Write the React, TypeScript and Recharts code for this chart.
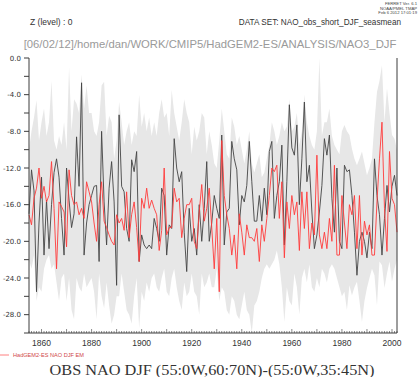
import React from 'react';
import { ComposedChart, Area, Line, XAxis, YAxis } from 'recharts';

const FIRST_YEAR = 1855;

// observed DJF NAO index
const obs = [
  -17.0, -12.2, -14.5, -25.5, -18, -13.0, -21.5, -15.5, -20.8, -16, -12.5, -11.0, -13, -17.5, -21.5, -12.0, -15.5, -18.5, -17, -8.6, -14, -2.7, -21.5, -18, -16,
  -15, -14, -13.9, -22.2, -8, -15.7, -20.4, -14.2, -11.3, -15.7, -24.8, -6.2, -14, -14.6, -18.6, -20, -11.1, -12.4, -10.2, -22.2, -19.3, -20.4, -20.8, -20.4, -20.8,
  -17.5, -18.6, -20, -14.2, -15, -21.5, -18.2, -18.6, -8.8, -12, -13.5, -12.4, -19, -23.3, -16.4, -20, -18.6, -21.5, -16, -20, -16.4, -11.3, -20, -18, -15,
  -16.4, -17.5, -8.4, -20.4, -16.8, -16.4, -9.1, -11, -12.2, -18.2, -15, -15.7, -13.9, -9.1, -13.5, -17.8, -17.8, -15, -17.8, -14.2, -17.1, -10.2, -9.1, -17.5,
  -15, -13.5, -9.5, -20.4, -13.5, -5.1, -9.8, -10.6, -7.3, -16, -11, -4.8, -13.5, -11.7, -16.8, -20.8, -19.3, -16.8, -13.9, -8.8, -10.6, -8.4, -15.3, -19, -12,
  -20, -20.8, -11.7, -12.4, -12.2, -15, -19, -23.7, -20, -19, -20, -21.8, -19, -20.8, -11, -15, -17.1, -21.5, -17.5, -13.9, -16.8, -14, -12.8, -15,
];

// HadGEM2-ES ensemble mean
const ensMean = [
  -17.1, -18.2, -15.3, -14.2, -12, -15.3, -14, -15.7, -15, -11.3, -16.4, -23, -15.7, -16.2, -16.8, -20.6, -12.2, -15, -16, -15.7, -17.1, -16.4, -17.5, -13.5, -14.6,
  -15.7, -18, -20, -16, -13.5, -17.8, -18.5, -19.3, -20, -20.4, -17.1, -18, -17.5, -18.8, -14.6, -19.6, -17.1, -15.7, -18.5, -22.2, -15.3, -16.4, -14.2, -16.4, -15.5,
  -16.4, -17.1, -21, -18.8, -12, -19.3, -18.5, -18.5, -14.2, -15.7, -15.3, -19.6, -17.5, -16, -16, -15.3, -20, -20.8, -16.8, -13.8, -17.8, -16.4, -14.2, -18.5, -23,
  -17.5, -25.5, -9, -15, -17.1, -18.6, -21.5, -19.3, -23, -17, -19, -21.5, -18.2, -19.6, -19.6, -20, -18.6, -22.2, -18.2, -20, -17.5, -15, -12, -12.4,
  -11.7, -17.5, -13.5, -21.8, -15.7, -18.6, -15, -17.1, -15.7, -21, -14.6, -18.6, -14.6, -20.8, -18, -19.3, -10.6, -19.3, -20.8, -19, -20.8, -17.5, -20, -11.7, -21.5,
  -21.5, -15, -18, -20.8, -16, -17.1, -15, -20.8, -15, -21.5, -17.8, -19.3, -18.2, -21.5, -21.5, -15.7, -11, -7, -16.4, -21.1, -10.2, -15.3, -16, -19,
];

// ensemble spread (max / min of members)
const ensMax = [
  -10, -8, -6.5, -4.6, -9, -7, -5.5, -8.5, -7, -2.5, -9, -10, -8.5, -9.5, -7, -10, -1, -8, -4.5, -5, -6, -1.8, -5.5, -3, -6,
  -6, -8, -8.5, -7, -3, -2.6, -8.5, -6.3, -7, -11, -9, -4.8, -7, -9.5, -8, -7, -9.5, -8, -8.5, -4, -7.5, -6, -8, -6.5, -8.5,
  -7, -8.5, -6, -4.5, -6.5, -6, -8.5, -3.5, -6, -7.5, -9, -7, -4.5, -6, -7, -10.5, -7.5, -9, -8, -6, -6.5, -10.5, -8, -9.5, -11.5,
  -12, -9, -5.5, -8, -10.5, -11, -6.5, -7.5, -9.5, -8.5, -10, -11.5, -10, -8, -11.5, -12.5, -11.5, -10.5, -13, -12.5, -11, -9.5, -7, -8,
  -9.5, -8.5, -7, -8, -7.5, -4.5, -8, -7.5, -6, -9.5, -8, -4, -7, -8.5, -9.5, -10, -8, 0, -8.5, -7, -7, -5.5, -8.5, -9.5, -10,
  -10.5, -8, -7.3, -8, -8.4, -9.9, -11, -11.7, -11, -10.2, -11.5, -12.8, -12, -11, -7, -3.7, -2.5, -0.8, -7, -3.3, -6, -8.4, -8.8, -10,
];
const ensMin = [
  -22, -23, -21.5, -26.5, -25, -25.5, -23, -22, -21.5, -23, -22.5, -24.5, -26.5, -24, -23.5, -26.5, -24, -27.5, -28.5, -24, -25, -25.5, -23.5, -25, -24.5,
  -24, -25.5, -28.5, -23.5, -26, -27.3, -24.5, -27, -29, -28, -26, -26, -23.5, -25.5, -27.5, -28, -29, -26, -24, -29.5, -25.5, -26.5, -24.5, -25.5, -24,
  -23.5, -25, -25.5, -24, -23, -25.5, -26, -24, -23, -25, -26.5, -27.5, -24.5, -26, -25.5, -23.5, -25.5, -26, -28, -23.5, -25, -24.5, -23.5, -25, -25,
  -23, -26.5, -25, -25.5, -27.5, -28, -26, -26.5, -28, -28.5, -27, -25.5, -27.5, -28, -30, -27, -26.5, -25.5, -24, -23, -22.5, -23, -22.5, -22,
  -21, -22.5, -25, -28.8, -25, -26.5, -27, -23.5, -25, -28, -24, -23, -24.5, -22.5, -25, -25.5, -24, -25, -23, -23.5, -24.5, -23, -22.5, -23, -24,
  -25, -26, -25.5, -27.5, -24.8, -25.9, -25, -24.4, -26.5, -28.8, -26.5, -25.1, -24, -23, -23.7, -27, -22.2, -22.6, -25.1, -23.5, -22.2, -24.4, -23, -22,
];

const years = obs.map((_, i) => FIRST_YEAR + i);
const xTicks = years;
const yTicks = [-30, -28, -26, -24, -22, -20, -18, -16, -14, -12, -10, -8, -6, -4, -2, 0];
const yearLabels = [1860, 1880, 1900, 1920, 1940, 1960, 1980, 2000];

const data = years.map((year, i) => ({
  year,
  obs: obs[i],
  mean: ensMean[i],
  band: [ensMin[i], ensMax[i]],
}));

const W = 419;
const H = 377;
const AXIS = '#3c3c3c';
const FONT = '"DejaVu Sans", sans-serif';
const THIN = '"Liberation Sans", Arial, sans-serif';

function BottomTick(props: any) {
  const { x, y, payload } = props;
  const v = payload.value;
  const len = v % 10 === 0 ? 4 : 2;
  return (
    <g>
      <line x1={x} x2={x} y1={y} y2={y - len} stroke={AXIS} strokeWidth={0.6} />
      {yearLabels.includes(v) && (
        <text x={x} y={y + 13} textAnchor="middle" fontSize={8.5} fontFamily={THIN} fill="#333">
          {v}
        </text>
      )}
    </g>
  );
}

function TopTick(props: any) {
  const { x, y, payload } = props;
  const len = payload.value % 10 === 0 ? 4 : 2;
  return <line x1={x} x2={x} y1={y} y2={y + len} stroke={AXIS} strokeWidth={0.6} />;
}

function LeftTick(props: any) {
  const { x, y, payload } = props;
  if (payload.value % 4 !== 0 || payload.value === -30) return <g />;
  return (
    <text x={x} y={y} dy={2.5} textAnchor="end" fontSize={7} fontFamily={FONT} fill="#333">
      {payload.value.toFixed(1)}
    </text>
  );
}

export default function App() {
  return (
    <div style={{ position: 'absolute', left: 0, top: 0, width: W, height: H, background: '#fff' }}>
      <ComposedChart width={W} height={H} data={data} margin={{ top: 58, right: 0, left: 0, bottom: 24 }}>
        <XAxis
          dataKey="year"
          type="number"
          domain={[1855, 2002]}
          ticks={xTicks}
          interval={0}
          tickSize={0}
          tickMargin={0}
          tickLine={false}
          axisLine={{ stroke: AXIS }}
          tick={<BottomTick />}
          height={20}
        />
        <XAxis
          xAxisId="top"
          orientation="top"
          dataKey="year"
          type="number"
          domain={[1855, 2002]}
          ticks={xTicks}
          interval={0}
          tickSize={0}
          tickMargin={0}
          tickLine={false}
          axisLine={{ stroke: AXIS }}
          tick={<TopTick />}
          height={0}
        />
        <YAxis
          type="number"
          domain={[-30, 0]}
          ticks={yTicks}
          interval={0}
          width={29}
          tickSize={5}
          tickMargin={3}
          tickLine={{ stroke: AXIS }}
          axisLine={{ stroke: AXIS }}
          tick={<LeftTick />}
        />
        <YAxis
          yAxisId="right"
          orientation="right"
          type="number"
          domain={[-30, 0]}
          ticks={yTicks}
          interval={0}
          width={22}
          tickSize={5}
          tickLine={{ stroke: AXIS }}
          axisLine={{ stroke: AXIS }}
          tick={() => <g />}
        />
        <Area
          dataKey="band"
          stroke="none"
          fill="#e7e7e7"
          fillOpacity={1}
          isAnimationActive={false}
          dot={false}
          activeDot={false}
        />
        <Line dataKey="obs" stroke="#444444" strokeWidth={0.9} dot={false} isAnimationActive={false} />
        <Line dataKey="mean" stroke="#ff3b3b" strokeWidth={0.9} dot={false} isAnimationActive={false} />
      </ComposedChart>
      <svg
        width={W}
        height={H}
        style={{ position: 'absolute', left: 0, top: 0, pointerEvents: 'none' }}
        fontFamily={THIN}
      >
        <text x={417} y={5} textAnchor="end" fontSize={4.2} fill="#444">FERRET Ver. 6.1</text>
        <text x={417} y={9.5} textAnchor="end" fontSize={4.2} fill="#444">NOAA/PMEL TMAP</text>
        <text x={417} y={14} textAnchor="end" fontSize={4.2} fill="#444">Feb  6 2012 17:01:19</text>
        <text x={30} y={25} fontSize={8.5} fill="#333">Z (level) : 0</text>
        <text x={401} y={25} textAnchor="end" fontSize={8.2} fill="#333">
          DATA SET: NAO_obs_short_DJF_seasmean
        </text>
        <text x={210} y={48} textAnchor="middle" fontSize={11.3} fill="#9a9a9a">
          [06/02/12]/home/dan/WORK/CMIP5/HadGEM2-ES/ANALYSIS/NAO3_DJF
        </text>
        <line x1={0} x2={9} y1={355} y2={355} stroke="#ff8080" strokeWidth={1} />
        <text x={13} y={357} fontSize={5.6} fill="#d04848">
          HadGEM2-ES NAO DJF EM
        </text>
        <text
          x={212}
          y={375}
          textAnchor="middle"
          fontSize={15}
          fontFamily='"Liberation Serif", "DejaVu Serif", serif'
          fill="#333"
          textLength={325}
          lengthAdjust="spacingAndGlyphs"
        >
          OBS NAO DJF (55:0W,60:70N)-(55:0W,35:45N)
        </text>
      </svg>
    </div>
  );
}
